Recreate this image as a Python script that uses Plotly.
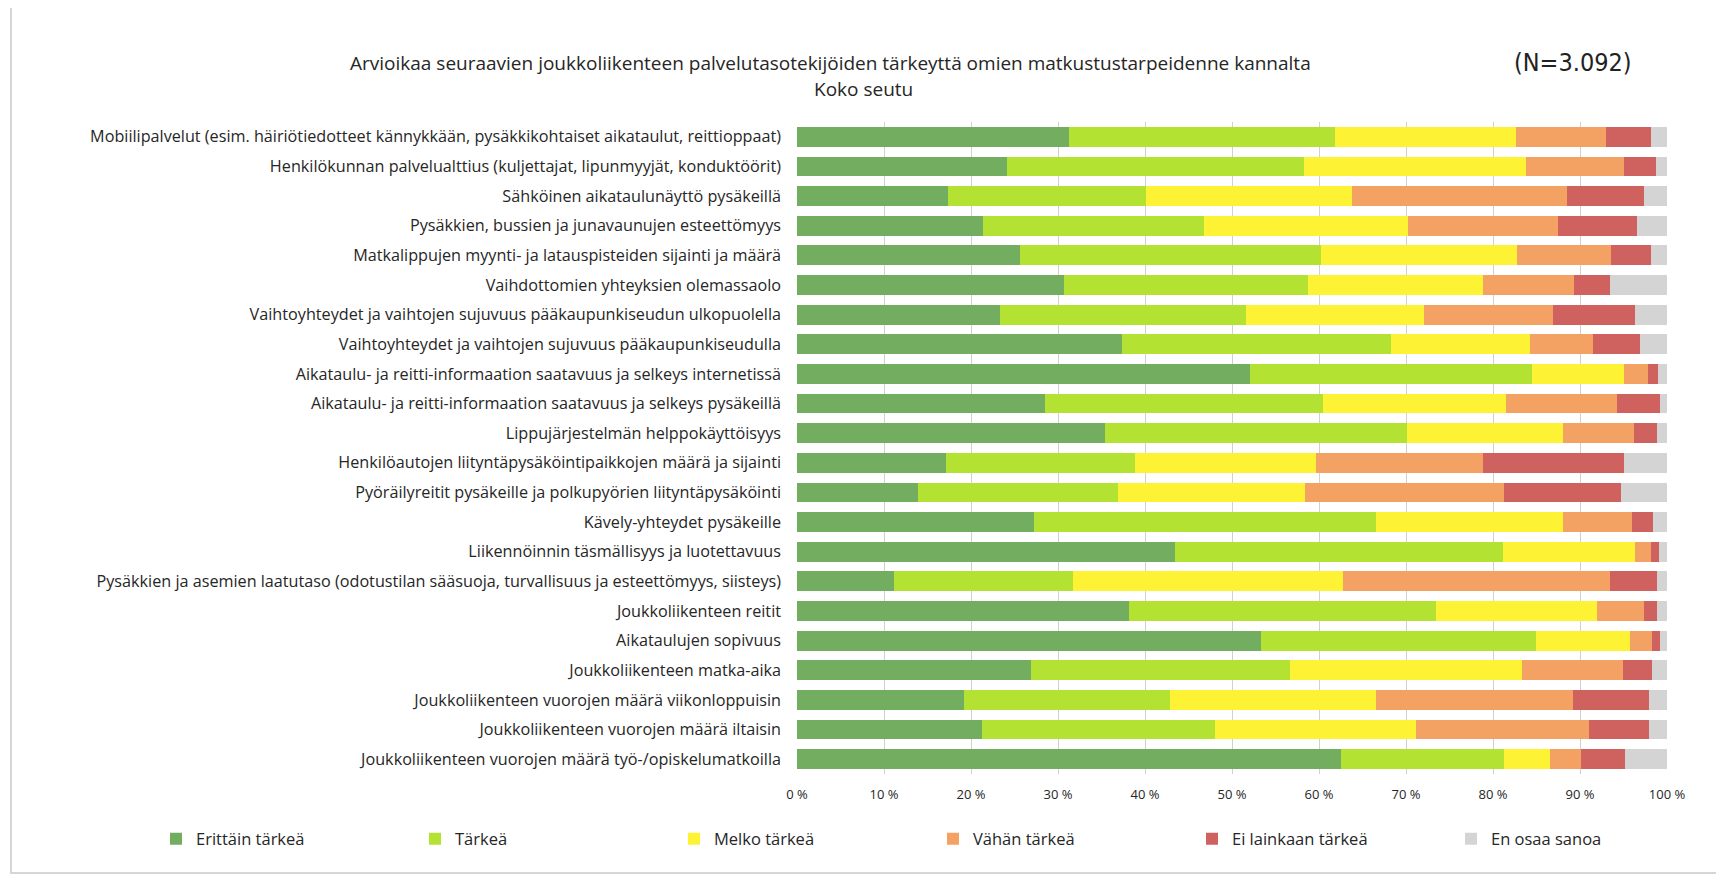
import plotly.graph_objects as go

categories = [
    "Mobiilipalvelut (esim. häiriötiedotteet kännykkään, pysäkkikohtaiset aikataulut, reittioppaat)",
    "Henkilökunnan palvelualttius (kuljettajat, lipunmyyjät, konduktöörit)",
    "Sähköinen aikataulunäyttö pysäkeillä",
    "Pysäkkien, bussien ja junavaunujen esteettömyys",
    "Matkalippujen myynti- ja latauspisteiden sijainti ja määrä",
    "Vaihdottomien yhteyksien olemassaolo",
    "Vaihtoyhteydet ja vaihtojen sujuvuus pääkaupunkiseudun ulkopuolella",
    "Vaihtoyhteydet ja vaihtojen sujuvuus pääkaupunkiseudulla",
    "Aikataulu- ja reitti-informaation saatavuus ja selkeys internetissä",
    "Aikataulu- ja reitti-informaation saatavuus ja selkeys pysäkeillä",
    "Lippujärjestelmän helppokäyttöisyys",
    "Henkilöautojen liityntäpysäköintipaikkojen määrä ja sijainti",
    "Pyöräilyreitit pysäkeille ja polkupyörien liityntäpysäköinti",
    "Kävely-yhteydet pysäkeille",
    "Liikennöinnin täsmällisyys ja luotettavuus",
    "Pysäkkien ja asemien laatutaso (odotustilan sääsuoja, turvallisuus ja esteettömyys, siisteys)",
    "Joukkoliikenteen reitit",
    "Aikataulujen sopivuus",
    "Joukkoliikenteen matka-aika",
    "Joukkoliikenteen vuorojen määrä viikonloppuisin",
    "Joukkoliikenteen vuorojen määrä iltaisin",
    "Joukkoliikenteen vuorojen määrä työ-/opiskelumatkoilla",
]

erittain_tarkea = [31.3, 24.1, 17.3, 21.4, 25.6, 30.7, 23.3, 37.3, 52.1, 28.5, 35.4,
                   17.1, 13.9, 27.2, 43.5, 11.2, 38.2, 53.3, 26.9, 19.2, 21.3, 62.5]
tarkea = [30.5, 34.2, 22.8, 25.4, 34.6, 28.0, 28.3, 31.0, 32.4, 32.0, 34.7,
          21.7, 23.0, 39.4, 37.6, 20.5, 35.2, 31.6, 29.8, 23.7, 26.8, 18.8]
melko_tarkea = [20.9, 25.5, 23.7, 23.4, 22.6, 20.1, 20.5, 16.0, 10.5, 21.0, 17.9,
                20.8, 21.5, 21.4, 15.2, 31.1, 18.6, 10.9, 26.6, 23.6, 23.1, 5.3]
vahan_tarkea = [10.3, 11.2, 24.7, 17.3, 10.8, 10.5, 14.8, 7.2, 2.8, 12.7, 8.2,
                19.2, 22.9, 8.0, 1.9, 30.7, 5.3, 2.5, 11.6, 22.7, 19.8, 3.5]
ei_lainkaan = [5.2, 3.7, 8.9, 9.1, 4.6, 4.2, 9.4, 5.4, 1.2, 5.0, 2.6,
               16.2, 13.4, 2.4, 0.9, 5.4, 1.5, 0.9, 3.4, 8.7, 6.9, 5.1]
en_osaa = [1.8, 1.3, 2.6, 3.4, 1.8, 6.5, 3.7, 3.1, 1.0, 0.8, 1.2,
           5.0, 5.3, 1.6, 0.9, 1.1, 1.2, 0.8, 1.7, 2.1, 2.1, 4.8]

series_names = ["Erittäin tärkeä", "Tärkeä", "Melko tärkeä", "Vähän tärkeä",
                "Ei lainkaan tärkeä", "En osaa sanoa"]
series_values = [erittain_tarkea, tarkea, melko_tarkea, vahan_tarkea, ei_lainkaan, en_osaa]
colors = ["#72AD60", "#B4E232", "#FDF234", "#F4A164", "#CF615F", "#D4D4D4"]

tick_vals = [0, 10, 20, 30, 40, 50, 60, 70, 80, 90, 100]
tick_text = ["0 %", "10 %", "20 %", "30 %", "40 %", "50 %", "60 %", "70 %", "80 %", "90 %", "100 %"]

title_line1 = "Arvioikaa seuraavien joukkoliikenteen palvelutasotekijöiden tärkeyttä omien matkustustarpeidenne kannalta"
title_line2 = "Koko seutu"
n_label = "(N=3.092)"

# page offset (default body margin) compensation
OFF = 8
W, H = 1724 - OFF, 882 - OFF
L, T = 797 - OFF, 122 - OFF
PW, PH = 870, 652
R = W - L - PW
B = H - T - PH


def px(x):
    return (x - OFF - L) / PW


def py(y):
    return (T + PH - (y - OFF)) / PH


FONT = "Open Sans"
TXT = "#262626"

fig = go.Figure()
for name, vals, col in zip(series_names, series_values, colors):
    fig.add_trace(go.Bar(
        y=categories, x=vals, name=name, orientation="h",
        marker=dict(color=col, line=dict(width=0)),
        hoverinfo="x+y+name",
    ))

fig.update_layout(
    width=W, height=H,
    margin=dict(l=L, r=R, t=T, b=B, autoexpand=False),
    barmode="stack", bargap=0.33,
    paper_bgcolor="white", plot_bgcolor="white",
    font=dict(family=FONT, size=14, color=TXT),
    xaxis=dict(range=[0, 100], tickvals=tick_vals, ticktext=tick_text,
               showgrid=True, gridcolor="#D0D0D0", gridwidth=1,
               zeroline=False, showline=False, ticks="",
               tickfont=dict(family=FONT, size=13, color=TXT), ticklabelstandoff=11),
    yaxis=dict(autorange=False, range=[21.5, -0.5], showgrid=False, zeroline=False,
               ticks="", tickfont=dict(family=FONT, size=16.2, color=TXT),
               ticklabelstandoff=15),
    legend=dict(orientation="h", x=px(156), xanchor="left", y=py(839), yanchor="middle",
                entrywidth=214, entrywidthmode="pixels", traceorder="normal",
                font=dict(family=FONT, size=16.5, color=TXT), bgcolor="rgba(0,0,0,0)"),
    showlegend=True,
    annotations=[
        dict(text=title_line1, x=px(830), y=py(63), xref="paper", yref="paper",
             showarrow=False, font=dict(family=FONT, size=19, color=TXT), xanchor="center", yanchor="middle"),
        dict(text=title_line2, x=px(863), y=py(89), xref="paper", yref="paper",
             showarrow=False, font=dict(family=FONT, size=19, color=TXT), xanchor="center", yanchor="middle"),
        dict(text=n_label, x=px(1573), y=py(62), xref="paper", yref="paper",
             showarrow=False, font=dict(family="DejaVu Sans Condensed", size=25, color="#222222"),
             xanchor="center", yanchor="middle"),
    ],
    shapes=[
        dict(type="rect", xref="paper", yref="paper",
             x0=px(11), x1=px(1718), y0=py(873), y1=py(5),
             line=dict(color="#D6D6D6", width=2), fillcolor="rgba(0,0,0,0)", layer="below"),
    ],
)

fig.write_html("out.html")
